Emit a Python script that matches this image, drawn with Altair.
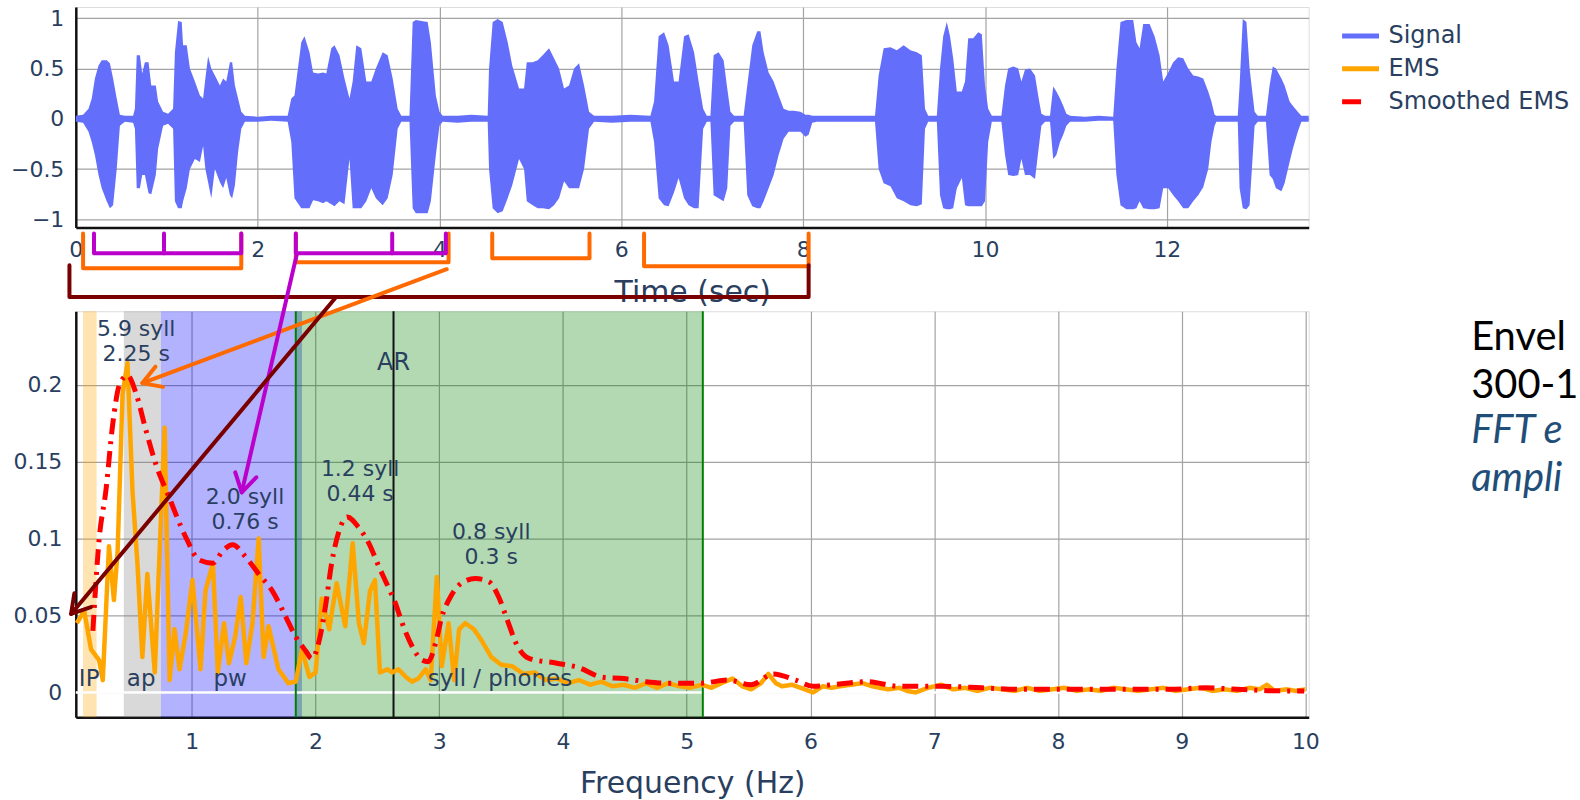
import math
import altair as alt
import pandas as pd

# ---------------- panel geometry / styling ----------------
T_DOMAIN = [0, 13.56]          # seconds
A_DOMAIN = [-1.08, 1.11]       # waveform amplitude
F_DOMAIN = [0.062, 10.027]     # Hz
E_DOMAIN = [-0.0161, 0.2477]   # spectral amplitude
PANEL_W = 1236
TOP_H = 221
BOT_H = 407

INK = "#2a3f5f"
FONT = "DejaVu Sans"
GRID = "#a3a3a3"

# ---------------- speech waveform, drawn as its amplitude envelope ----------------
sig_t = [0.0, 0.08, 0.14, 0.175, 0.21, 0.25, 0.285, 0.34, 0.375, 0.41, 0.45, 0.485, 0.54, 0.63,
         0.65, 0.67, 0.705, 0.73, 0.76, 0.80, 0.83, 0.88, 0.905, 0.96, 1.015, 1.07,
         1.09, 1.125, 1.165, 1.18, 1.22, 1.255, 1.31, 1.365, 1.40, 1.425, 1.455, 1.49, 1.53, 1.585,
         1.62, 1.655, 1.695, 1.72, 1.75, 1.785, 1.82, 1.86, 2.0, 2.15, 2.33,
         2.37, 2.405, 2.48, 2.515, 2.57, 2.61, 2.665, 2.72, 2.755, 2.81, 2.845, 2.90, 2.955, 3.01,
         3.045, 3.085, 3.14, 3.195, 3.25, 3.30, 3.375, 3.43, 3.485, 3.54, 3.58, 3.67,
         3.705, 3.74, 3.87, 3.905, 3.96, 4.0, 4.035, 4.2, 4.35, 4.53,
         4.545, 4.585, 4.64, 4.695, 4.75, 4.80, 4.875, 4.93, 4.96, 5.025, 5.08, 5.135, 5.205, 5.26,
         5.315, 5.37, 5.425, 5.48, 5.535, 5.59, 5.645, 5.70, 5.9, 6.1, 6.32,
         6.36, 6.41, 6.47, 6.52, 6.58, 6.63, 6.69, 6.74, 6.80, 6.85, 6.90, 6.94, 6.98,
         7.015, 7.07, 7.125, 7.165, 7.20, 7.24, 7.345,
         7.385, 7.44, 7.495, 7.53, 7.565, 7.62, 7.675, 7.73, 7.785, 7.84, 7.895, 7.97, 8.025, 8.06,
         8.10, 8.15, 8.4, 8.6, 8.79,
         8.83, 8.885, 8.96, 9.03, 9.105, 9.18, 9.25, 9.305, 9.34, 9.375, 9.47,
         9.505, 9.54, 9.58, 9.615, 9.65, 9.69, 9.745, 9.78, 9.815, 9.87, 9.925, 9.965, 10.0, 10.035,
         10.075, 10.18,
         10.22, 10.255, 10.31, 10.365, 10.40, 10.44, 10.495, 10.55, 10.585, 10.62, 10.66, 10.715,
         10.75, 10.785, 10.825, 10.86, 10.895, 10.935, 11.1, 11.25, 11.41,
         11.445, 11.49, 11.555, 11.63, 11.665, 11.70, 11.74, 11.81, 11.865, 11.92, 11.96, 12.015,
         12.07, 12.125, 12.18, 12.235, 12.29, 12.345, 12.40, 12.455, 12.49, 12.525, 12.545, 12.78,
         12.80, 12.835, 12.875, 12.91, 12.965, 13.0, 13.09,
         13.13, 13.165, 13.20, 13.26, 13.295, 13.35, 13.385, 13.44, 13.48, 13.56]
sig_hi = [0.03, 0.04, 0.10, 0.20, 0.40, 0.53, 0.58, 0.58, 0.55, 0.40, 0.20, 0.04, 0.03, 0.03,
          0.10, 0.63, 0.63, 0.45, 0.56, 0.56, 0.33, 0.33, 0.17, 0.07, 0.05, 0.10,
          0.66, 0.97, 0.96, 0.73, 0.73, 0.50, 0.37, 0.23, 0.20, 0.40, 0.62, 0.50, 0.43, 0.33,
          0.40, 0.37, 0.56, 0.56, 0.33, 0.20, 0.07, 0.03, 0.02, 0.03, 0.03,
          0.20, 0.23, 0.76, 0.82, 0.66, 0.46, 0.45, 0.46, 0.45, 0.70, 0.73, 0.63, 0.40, 0.20,
          0.37, 0.73, 0.70, 0.37, 0.37, 0.50, 0.66, 0.63, 0.40, 0.10, 0.03, 0.03,
          0.96, 0.98, 0.96, 0.76, 0.23, 0.07, 0.03, 0.03, 0.04, 0.03,
          0.50, 0.96, 0.99, 0.96, 0.76, 0.53, 0.30, 0.30, 0.56, 0.56, 0.58, 0.63, 0.70, 0.60,
          0.50, 0.30, 0.33, 0.50, 0.55, 0.33, 0.07, 0.03, 0.03, 0.04, 0.03,
          0.17, 0.82, 0.86, 0.73, 0.37, 0.37, 0.82, 0.84, 0.66, 0.37, 0.10, 0.03, 0.03,
          0.63, 0.66, 0.58, 0.30, 0.07, 0.03, 0.03,
          0.33, 0.73, 0.87, 0.87, 0.66, 0.46, 0.37, 0.23, 0.10, 0.08, 0.08, 0.07, 0.04, 0.04,
          0.03, 0.03, 0.03, 0.03, 0.03,
          0.43, 0.70, 0.71, 0.68, 0.73, 0.68, 0.66, 0.63, 0.10, 0.03, 0.03,
          0.50, 0.82, 0.96, 0.82, 0.60, 0.27, 0.27, 0.37, 0.80, 0.80, 0.86, 0.84, 0.33, 0.10,
          0.03, 0.03,
          0.33, 0.50, 0.52, 0.50, 0.37, 0.49, 0.50, 0.43, 0.23, 0.05, 0.03, 0.03,
          0.32, 0.27, 0.20, 0.13, 0.05, 0.03, 0.02, 0.03, 0.02,
          0.50, 0.96, 0.98, 0.98, 0.76, 0.70, 0.94, 0.94, 0.82, 0.63, 0.37, 0.46,
          0.56, 0.61, 0.60, 0.50, 0.43, 0.42, 0.40, 0.27, 0.17, 0.04, 0.03, 0.03,
          0.33, 0.99, 0.96, 0.50, 0.07, 0.03, 0.03,
          0.33, 0.52, 0.50, 0.40, 0.33, 0.17, 0.13, 0.07, 0.03, 0.03]
sig_lo = [-0.03, -0.04, -0.13, -0.23, -0.36, -0.56, -0.69, -0.82, -0.89, -0.86, -0.50, -0.07, -0.03, -0.04,
          -0.10, -0.69, -0.69, -0.56, -0.56, -0.74, -0.75, -0.56, -0.30, -0.07, -0.05, -0.10,
          -0.82, -0.89, -0.89, -0.82, -0.69, -0.50, -0.40, -0.43, -0.27, -0.50, -0.63, -0.79, -0.50, -0.63,
          -0.69, -0.59, -0.76, -0.79, -0.66, -0.33, -0.10, -0.03, -0.03, -0.02, -0.03,
          -0.23, -0.79, -0.89, -0.89, -0.89, -0.81, -0.82, -0.84, -0.82, -0.85, -0.87, -0.82, -0.85, -0.40,
          -0.89, -0.89, -0.89, -0.82, -0.69, -0.79, -0.86, -0.79, -0.56, -0.10, -0.03, -0.03,
          -0.89, -0.94, -0.94, -0.82, -0.36, -0.07, -0.03, -0.04, -0.03, -0.03,
          -0.50, -0.89, -0.94, -0.92, -0.79, -0.66, -0.40, -0.50, -0.82, -0.86, -0.89, -0.89, -0.90, -0.86,
          -0.79, -0.62, -0.69, -0.69, -0.69, -0.50, -0.10, -0.03, -0.04, -0.03, -0.03,
          -0.23, -0.79, -0.86, -0.87, -0.73, -0.59, -0.79, -0.86, -0.89, -0.89, -0.10, -0.03, -0.03,
          -0.76, -0.79, -0.82, -0.69, -0.07, -0.03, -0.03,
          -0.76, -0.87, -0.89, -0.89, -0.82, -0.69, -0.56, -0.36, -0.20, -0.13, -0.13, -0.13, -0.18, -0.16,
          -0.04, -0.03, -0.03, -0.03, -0.03,
          -0.50, -0.64, -0.67, -0.79, -0.82, -0.86, -0.87, -0.85, -0.10, -0.03, -0.03,
          -0.76, -0.89, -0.90, -0.90, -0.89, -0.69, -0.59, -0.86, -0.87, -0.87, -0.87, -0.87, -0.82, -0.23,
          -0.03, -0.03,
          -0.36, -0.56, -0.57, -0.56, -0.40, -0.56, -0.56, -0.60, -0.33, -0.07, -0.03, -0.03,
          -0.40, -0.36, -0.23, -0.16, -0.07, -0.03, -0.03, -0.02, -0.02,
          -0.56, -0.86, -0.90, -0.90, -0.89, -0.82, -0.89, -0.90, -0.90, -0.89, -0.69, -0.69,
          -0.76, -0.82, -0.89, -0.89, -0.82, -0.76, -0.68, -0.50, -0.23, -0.07, -0.03, -0.03,
          -0.69, -0.89, -0.90, -0.86, -0.07, -0.03, -0.03,
          -0.56, -0.60, -0.69, -0.72, -0.64, -0.43, -0.30, -0.13, -0.03, -0.03]
assert len(sig_t) == len(sig_hi) == len(sig_lo)

# ---------------- envelope modulation spectrum ----------------
ems_f = [0.07, 0.13, 0.185, 0.25, 0.28, 0.33, 0.37, 0.40, 0.44, 0.48, 0.52, 0.56, 0.60, 0.64,
         0.70, 0.78, 0.82, 0.86, 0.90, 0.95, 1.005, 1.07, 1.11, 1.17, 1.21, 1.26, 1.30, 1.35,
         1.395, 1.44, 1.49, 1.54, 1.58, 1.62, 1.70, 1.78, 1.84, 1.89, 1.95, 2.0, 2.05, 2.11,
         2.17, 2.24, 2.30, 2.35, 2.39, 2.44, 2.48, 2.52, 2.58, 2.62, 2.67, 2.73, 2.78, 2.83,
         2.89, 2.93, 2.98, 3.02, 3.075, 3.12, 3.16, 3.21, 3.28, 3.34, 3.42, 3.5, 3.59, 3.68,
         3.77, 3.86, 3.95, 4.04, 4.13, 4.22, 4.31, 4.40, 4.49, 4.58, 4.67, 4.76, 4.85, 4.94,
         5.03, 5.12, 5.2, 5.28, 5.37, 5.45, 5.52, 5.60, 5.66, 5.72, 5.77, 5.85, 5.92, 6.02,
         6.1, 6.17, 6.24, 6.33, 6.42, 6.5, 6.56, 6.63, 6.72, 6.78, 6.85, 6.95, 7.06, 7.15,
         7.25, 7.35, 7.45, 7.55, 7.65, 7.75, 7.85, 7.95, 8.05, 8.15, 8.25, 8.35, 8.45, 8.55,
         8.65, 8.75, 8.85, 8.95, 9.05, 9.15, 9.25, 9.35, 9.45, 9.55, 9.63, 9.69, 9.75, 9.85,
         9.92, 10.0]
ems_v = [0.045, 0.053, 0.028, 0.021, 0.008, 0.095, 0.060, 0.092, 0.194, 0.214, 0.131, 0.084, 0.023, 0.077,
         0.013, 0.172, 0.008, 0.041, 0.015, 0.038, 0.073, 0.015, 0.066, 0.084, 0.013, 0.045, 0.019, 0.036,
         0.062, 0.019, 0.045, 0.100, 0.023, 0.043, 0.015, 0.006, 0.007, 0.028, 0.010, 0.013, 0.061, 0.041,
         0.071, 0.043, 0.097, 0.045, 0.032, 0.066, 0.073, 0.013, 0.015, 0.013, 0.015, 0.010, 0.007, 0.009,
         0.015, 0.008, 0.075, 0.017, 0.045, 0.008, 0.041, 0.045, 0.041, 0.034, 0.023, 0.018, 0.017, 0.012,
         0.013, 0.008, 0.009, 0.006, 0.008, 0.005, 0.007, 0.004, 0.005, 0.003, 0.006, 0.003, 0.006, 0.004,
         0.003, 0.005, 0.003, 0.006, 0.009, 0.004, 0.002, 0.006, 0.012, 0.006, 0.004, 0.005, 0.003, 0.000,
         0.004, 0.003, 0.004, 0.005, 0.006, 0.004, 0.003, 0.002, 0.003, 0.001, 0.000, 0.003, 0.005, 0.002,
         0.003, 0.001, 0.003, 0.002, 0.001, 0.003, 0.001, 0.002, 0.003, 0.001, 0.002, 0.001, 0.003, 0.002,
         0.001, 0.002, 0.003, 0.001, 0.002, 0.003, 0.001, 0.002, 0.001, 0.003, 0.002, 0.005, 0.001, 0.002,
         0.001, 0.002]
sm_f = [0.20, 0.25, 0.305, 0.36, 0.415, 0.48, 0.55, 0.63, 0.71, 0.815, 0.95, 1.06, 1.17, 1.25,
        1.33, 1.435, 1.54, 1.65, 1.76, 1.84, 1.92, 1.97, 2.03, 2.08, 2.13, 2.19, 2.255, 2.35,
        2.43, 2.51, 2.59, 2.645, 2.70, 2.78, 2.86, 2.91, 2.97, 3.02, 3.09, 3.18, 3.29, 3.40,
        3.48, 3.55, 3.62, 3.73, 3.95, 4.13, 4.31, 4.49, 4.67, 4.85, 5.03, 5.12, 5.33, 5.52,
        5.70, 5.88, 6.02, 6.17, 6.46, 6.71, 7.06, 7.39, 7.68, 7.96, 8.29, 8.61, 8.91, 9.19,
        9.45, 9.81, 9.99]
sm_v = [0.040, 0.099, 0.131, 0.174, 0.200, 0.206, 0.194, 0.170, 0.148, 0.127, 0.101, 0.086, 0.084, 0.092,
        0.096, 0.088, 0.077, 0.066, 0.049, 0.036, 0.027, 0.022, 0.034, 0.056, 0.084, 0.105, 0.114, 0.107,
        0.097, 0.082, 0.068, 0.058, 0.045, 0.030, 0.021, 0.020, 0.032, 0.049, 0.062, 0.071, 0.074, 0.072,
        0.062, 0.047, 0.032, 0.022, 0.019, 0.016, 0.010, 0.009, 0.007, 0.006, 0.006, 0.006, 0.008, 0.005,
        0.012, 0.008, 0.004, 0.005, 0.007, 0.004, 0.004, 0.003, 0.002, 0.002, 0.002, 0.002, 0.002, 0.003,
        0.002, 0.001, 0.001]

# ---------------- rhythm bands and markers ----------------
band_names = ["IP", "ap", "pw", "syll / phones"]
band_from = [0.12, 0.45, 0.75, 1.84]
band_to = [0.23, 0.75, 1.89, 5.13]
band_colors = ["#FFA500", "#808080", "#0000FF", "#008000"]
band_label_f = [0.17, 0.59, 1.31, 3.49]

edge_f = [1.84, 5.13]          # green band edges
ar_f = 2.63                    # articulation rate

peak_labels = ["5.9 syll\n2.25 s", "2.0 syll\n0.76 s", "1.2 syll\n0.44 s", "0.8 syll\n0.3 s"]
peak_label_f = [0.55, 1.43, 2.36, 3.42]
peak_label_v = [0.236, 0.1268, 0.1452, 0.104]   # first line of each label

# ---------------- brackets under the time axis ----------------
brk_from = [0.08, 2.42, 4.58, 6.25, 0.20, 2.42, -0.07]
brk_to = [1.82, 4.10, 5.65, 8.06, 1.82, 4.07, 8.06]
brk_top = [-1.139, -1.139, -1.139, -1.139, -1.139, -1.139, -1.455]
brk_bottom = [-1.485, -1.426, -1.386, -1.465, -1.337, -1.337, -1.772]
brk_color = ["#FF6A00", "#FF6A00", "#FF6A00", "#FF6A00", "#BB00CC", "#BB00CC", "#7A0000"]
brk_mid = [0.97, 3.48]          # inner ticks of the two magenta brackets
brk_mid_color = "#BB00CC"

# ---------------- arrows from brackets to spectral peaks (spectrum units) ----------------
arr_from_f = [3.06, 1.849, 2.156]
arr_from_v = [0.275, 0.285, 0.256]
arr_to_f = [0.60, 1.403, 0.024]
arr_to_v = [0.201, 0.130, 0.051]
arr_color = ["#FF6A00", "#BB00CC", "#7A0000"]

# ---------------- side caption (runs off the right edge) ----------------
side_text = ["Envel", "300-1", "FFT e", "ampli"]
side_style = ["normal", "normal", "italic", "italic"]
side_color = ["#000000", "#000000", "#1F4E79", "#1F4E79"]
side_f = 11.34
side_v = [0.2302, 0.1992, 0.170, 0.1389]

# =================================================================
SERIES = ["Signal", "EMS", "Smoothed EMS"]
series_scale = alt.Scale(domain=SERIES, range=["#636EFA", "#FFA500", "#FF0000"])
dash_scale = alt.Scale(domain=SERIES, range=[[1, 0], [1, 0], [19, 60]])
series_legend = alt.Legend(
    title=None, orient="none", legendX=1267, legendY=8, padding=0,
    symbolType="stroke", symbolSize=1369, symbolStrokeWidth=5,
    labelFont=FONT, labelFontSize=24, labelColor=INK, labelOffset=7, labelLimit=400,
    rowPadding=-4,
)

axis_common = dict(grid=True, gridColor=GRID, gridWidth=1.2, ticks=False,
                   domainColor="#111111", domainWidth=2.5, labelFont=FONT, labelFontSize=22,
                   labelColor=INK, titleFont=FONT, titleFontSize=30, titleColor=INK,
                   titleFontWeight="normal", format="~r", labelFlush=False)

t_scale = alt.Scale(domain=T_DOMAIN, nice=False, zero=False)
a_scale = alt.Scale(domain=A_DOMAIN, nice=False, zero=False)
f_scale = alt.Scale(domain=F_DOMAIN, nice=False, zero=False)
e_scale = alt.Scale(domain=E_DOMAIN, nice=False, zero=False)

t_axis = alt.Axis(values=[0, 2, 4, 6, 8, 10, 12], title="Time (sec)", labelPadding=12,
                  titlePadding=17, **axis_common)
a_axis = alt.Axis(values=[-1, -0.5, 0, 0.5, 1], title=None, labelPadding=12, **axis_common)
f_axis = alt.Axis(values=list(range(1, 11)), title="Frequency (Hz)", labelPadding=14,
                  titlePadding=16, **axis_common)
e_axis = alt.Axis(values=[0, 0.05, 0.1, 0.15, 0.2], title=None, labelPadding=14, **axis_common)

# ---------------- top panel: waveform ----------------
wave = pd.DataFrame({"t": sig_t, "v": sig_hi, "lo": sig_lo, "series": "Signal"})
wave_layer = alt.Chart(wave).mark_area(interpolate="linear").encode(
    x=alt.X("t:Q", scale=t_scale, axis=t_axis),
    y=alt.Y("v:Q", scale=a_scale, axis=a_axis),
    y2="lo:Q",
    color=alt.Color("series:N", scale=series_scale, legend=series_legend),
)

brk_rows = []
for i in range(len(brk_from)):
    corners = [(brk_from[i], brk_top[i]), (brk_from[i], brk_bottom[i]),
               (brk_to[i], brk_bottom[i]), (brk_to[i], brk_top[i])]
    for k, (t, v) in enumerate(corners):
        brk_rows.append({"id": i, "k": k, "t": t, "v": v, "col": brk_color[i]})
brk_df = pd.DataFrame(brk_rows)
brk_layer = alt.Chart(brk_df).mark_line(strokeWidth=4, strokeJoin="round", strokeCap="round",
                                         clip=False).encode(
    x=alt.X("t:Q", scale=t_scale, axis=t_axis),
    y=alt.Y("v:Q", scale=a_scale, axis=a_axis),
    detail="id:N",
    order="k:Q",
    stroke=alt.Stroke("col:N", scale=None),
)
mid_df = pd.DataFrame({"t": brk_mid, "v": [brk_top[4]] * 2, "v2": [brk_bottom[4]] * 2})
mid_layer = alt.Chart(mid_df).mark_rule(strokeWidth=4, strokeCap="round", color=brk_mid_color,
                                         clip=False).encode(
    x=alt.X("t:Q", scale=t_scale, axis=t_axis),
    y=alt.Y("v:Q", scale=a_scale, axis=a_axis),
    y2="v2:Q",
)

top = alt.layer(wave_layer, brk_layer, mid_layer).properties(width=PANEL_W, height=TOP_H)

# ---------------- bottom panel: spectrum ----------------
X_F = alt.X("f:Q", scale=f_scale, axis=f_axis)
Y_E = alt.Y("v:Q", scale=e_scale, axis=e_axis)

bands = pd.DataFrame({"f": band_from, "f2": band_to, "col": band_colors})
band_layer = alt.Chart(bands).mark_rect(opacity=0.3).encode(
    x=X_F, x2="f2:Q", fill=alt.Fill("col:N", scale=None))

zero_layer = alt.Chart(pd.DataFrame({"v": [0.0]})).mark_rule(color="white", strokeWidth=2.5).encode(y=Y_E)

edge_layer = alt.Chart(pd.DataFrame({"f": edge_f})).mark_rule(color="#008000", strokeWidth=2).encode(x=X_F)
ar_layer = alt.Chart(pd.DataFrame({"f": [ar_f]})).mark_rule(color="#111111", strokeWidth=2).encode(x=X_F)

ems = pd.DataFrame({"f": ems_f, "v": ems_v, "series": "EMS"})
ems_layer = alt.Chart(ems).mark_line(strokeWidth=4.5, strokeJoin="round").encode(
    x=X_F, y=Y_E,
    color=alt.Color("series:N", scale=series_scale, legend=series_legend),
    strokeDash=alt.StrokeDash("series:N", scale=dash_scale, legend=series_legend),
)

sm = pd.DataFrame({"f": sm_f, "v": sm_v, "series": "Smoothed EMS"})
sm_layer = alt.Chart(sm).mark_line(strokeWidth=5, strokeDash=[16, 7, 3, 7], interpolate="monotone").encode(
    x=X_F, y=Y_E, color=alt.Color("series:N", scale=series_scale, legend=series_legend))

peak_df = pd.DataFrame({"f": peak_label_f, "v": peak_label_v, "txt": peak_labels})
peak_layer = alt.Chart(peak_df).mark_text(font=FONT, fontSize=22, color=INK, lineBreak="\n",
                                          lineHeight=25, baseline="middle", clip=False).encode(
    x=X_F, y=Y_E, text="txt:N")

band_lbl = pd.DataFrame({"f": band_label_f, "v": [0.009] * 4, "txt": band_names})
band_lbl_layer = alt.Chart(band_lbl).mark_text(font=FONT, fontSize=23, color=INK,
                                               baseline="middle").encode(x=X_F, y=Y_E, text="txt:N")

ar_lbl_layer = alt.Chart(pd.DataFrame({"f": [ar_f], "v": [0.214], "txt": ["AR"]})).mark_text(
    font=FONT, fontSize=24, color=INK, baseline="middle").encode(x=X_F, y=Y_E, text="txt:N")

# arrow shafts and heads; head angle follows the on-screen direction of each shaft
px_f = PANEL_W / (F_DOMAIN[1] - F_DOMAIN[0])
px_e = BOT_H / (E_DOMAIN[1] - E_DOMAIN[0])
angles = []
for i in range(len(arr_from_f)):
    dx = (arr_to_f[i] - arr_from_f[i]) * px_f
    dy = -(arr_to_v[i] - arr_from_v[i]) * px_e
    angles.append(math.degrees(math.atan2(dy, dx)) % 360)
arr_df = pd.DataFrame({"f": arr_from_f, "v": arr_from_v, "f2": arr_to_f, "v2": arr_to_v,
                       "col": arr_color})
head_df = pd.DataFrame({"f": arr_to_f, "v": arr_to_v, "ang": angles, "col": arr_color})
shaft_layer = alt.Chart(arr_df).mark_rule(strokeWidth=4, strokeCap="round", clip=False).encode(
    x=X_F, y=Y_E, x2="f2:Q", y2="v2:Q", stroke=alt.Stroke("col:N", scale=None))
head_layer = alt.Chart(head_df).mark_point(shape="M -1 -0.6 L 0 0 L -1 0.6", filled=False,
                                           strokeWidth=4, size=1300, opacity=1, clip=False,
                                           strokeCap="round", strokeJoin="round").encode(
    x=X_F, y=Y_E, angle=alt.Angle("ang:Q", scale=None), stroke=alt.Stroke("col:N", scale=None))

side_df = pd.DataFrame({"f": [side_f] * 4, "v": side_v, "txt": side_text,
                        "sty": side_style, "col": side_color})
side_layers = []
for sty in ["normal", "italic"]:
    side_layers.append(
        alt.Chart(side_df[side_df.sty == sty]).mark_text(
            font="Lato", fontSize=40, fontStyle=sty, align="left", baseline="middle", clip=False
        ).encode(x=X_F, y=Y_E, text="txt:N", fill=alt.Fill("col:N", scale=None))
    )

bottom = alt.layer(band_layer, zero_layer, edge_layer, ar_layer, ems_layer, sm_layer,
                   peak_layer, band_lbl_layer, ar_lbl_layer, shaft_layer, head_layer,
                   *side_layers).properties(width=PANEL_W, height=BOT_H)

chart = alt.vconcat(top, bottom, spacing=84, bounds="flush").properties(
    padding={"left": 10, "top": 5, "right": 0, "bottom": 0}
).configure_view(stroke=None).configure_legend(
    labelFont=FONT, labelFontSize=24, labelColor=INK
).configure(background="white")

chart.save("out.html", embed_options={"renderer": "svg", "actions": False})
